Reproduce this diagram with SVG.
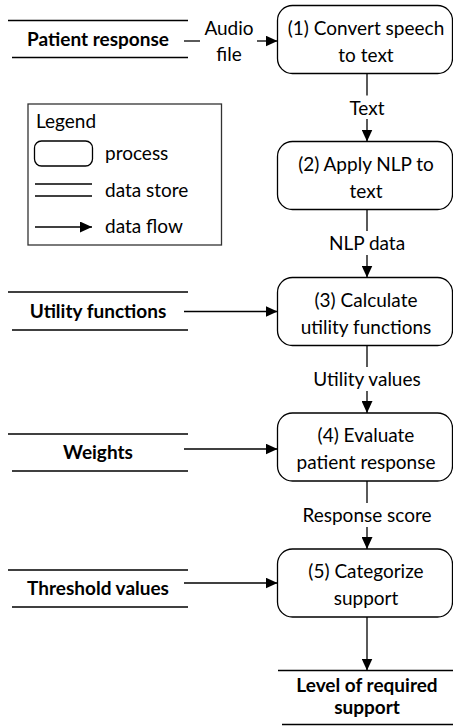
<svg xmlns="http://www.w3.org/2000/svg" width="453" height="726" viewBox="0 0 453 726">
<defs>
<marker id="ah" markerWidth="12" markerHeight="11" refX="12" refY="5.5" orient="auto" markerUnits="userSpaceOnUse"><path d="M0,0 L12,5.5 L0,11 Z" fill="#000"/></marker>
<style>
.t{font-family:Lato,"Liberation Sans",sans-serif;font-size:19px;fill:#000;text-anchor:middle}
.s{text-anchor:start}
.b{font-weight:bold}
.box{fill:#fff;stroke:#000;stroke-width:1.3}
.ln{stroke:#000;stroke-width:1.3;fill:none}
.fl{stroke:#000;stroke-width:1.3;fill:none;marker-end:url(#ah)}
</style>
</defs>
<rect width="453" height="726" fill="#fff"/>
<g id="legend">
<rect x="28" y="104" width="193.5" height="141" fill="none" stroke="#333" stroke-width="1.3"/>
<text class="t s" x="36" y="127.5">Legend</text>
<rect class="box" x="34.5" y="141" width="58" height="25" rx="7"/>
<text class="t s" x="105" y="160">process</text>
<line class="ln" x1="35" y1="184" x2="92" y2="184"/>
<line class="ln" x1="35" y1="196" x2="92" y2="196" stroke="#666"/>
<text class="t s" x="105" y="197">data store</text>
<line class="fl" x1="35" y1="227" x2="92" y2="227"/>
<text class="t s" x="105" y="233">data flow</text>
</g>
<g id="p1"><rect class="box" x="277.5" y="5.5" width="175" height="68" rx="15"/><text class="t" x="366" y="34.5">(1) Convert speech</text><text class="t" x="366" y="61.5">to text</text></g>
<g id="p2"><rect class="box" x="277.5" y="141.5" width="175" height="68" rx="15"/><text class="t" x="366" y="170.5">(2) Apply NLP to</text><text class="t" x="366" y="197.5">text</text></g>
<g id="p3"><rect class="box" x="277.5" y="277.5" width="175" height="68" rx="15"/><text class="t" x="366" y="306.5">(3) Calculate</text><text class="t" x="366" y="333.5">utility functions</text></g>
<g id="p4"><rect class="box" x="277.5" y="413" width="175" height="68" rx="15"/><text class="t" x="366" y="442">(4) Evaluate</text><text class="t" x="366" y="469">patient response</text></g>
<g id="p5"><rect class="box" x="277.5" y="549" width="175" height="68" rx="15"/><text class="t" x="366" y="578">(5) Categorize</text><text class="t" x="366" y="605">support</text></g>
<g id="ds1"><line class="ln" x1="8" y1="20.5" x2="188" y2="20.5"/><line class="ln" x1="12" y1="57.5" x2="188" y2="57.5"/><text class="t b" x="98" y="45.5">Patient response</text></g>
<g id="ds2"><line class="ln" x1="8" y1="292" x2="188" y2="292"/><line class="ln" x1="12" y1="330" x2="188" y2="330"/><text class="t b" x="98" y="317.5">Utility functions</text></g>
<g id="ds3"><line class="ln" x1="8" y1="434" x2="188" y2="434"/><line class="ln" x1="12" y1="471" x2="188" y2="471"/><text class="t b" x="98" y="459">Weights</text></g>
<g id="ds4"><line class="ln" x1="8" y1="570" x2="188" y2="570"/><line class="ln" x1="12" y1="607" x2="188" y2="607"/><text class="t b" x="98" y="595">Threshold values</text></g>
<g id="ds5"><line class="ln" x1="278" y1="670.5" x2="453" y2="670.5"/><line class="ln" x1="282" y1="724.5" x2="453" y2="724.5"/><text class="t b" x="367" y="692">Level of required</text><text class="t b" x="367" y="714">support</text></g>
<g id="connectors">
<line class="ln" x1="184" y1="41" x2="200" y2="41"/>
<text class="t" x="229" y="35">Audio</text><text class="t" x="229" y="61">file</text>
<line class="fl" x1="257" y1="41" x2="277.5" y2="41"/>
<line class="ln" x1="367" y1="73.5" x2="367" y2="95.5"/>
<text class="t" x="367" y="114.5">Text</text>
<line class="fl" x1="367" y1="119" x2="367" y2="141.5"/>
<line class="ln" x1="367" y1="209.5" x2="367" y2="231"/>
<text class="t" x="367" y="250">NLP data</text>
<line class="fl" x1="367" y1="255" x2="367" y2="277.5"/>
<line class="ln" x1="367" y1="345.5" x2="367" y2="367"/>
<text class="t" x="367" y="386">Utility values</text>
<line class="fl" x1="367" y1="391" x2="367" y2="413"/>
<line class="ln" x1="367" y1="481" x2="367" y2="503"/>
<text class="t" x="367" y="521.5">Response score</text>
<line class="fl" x1="367" y1="527" x2="367" y2="549"/>
<line class="fl" x1="367" y1="617" x2="367" y2="670.5"/>
<line class="fl" x1="184" y1="311.5" x2="277.5" y2="311.5"/>
<line class="fl" x1="184" y1="449" x2="277.5" y2="449"/>
<line class="fl" x1="184" y1="583" x2="277.5" y2="583"/>
</g>
</svg>
